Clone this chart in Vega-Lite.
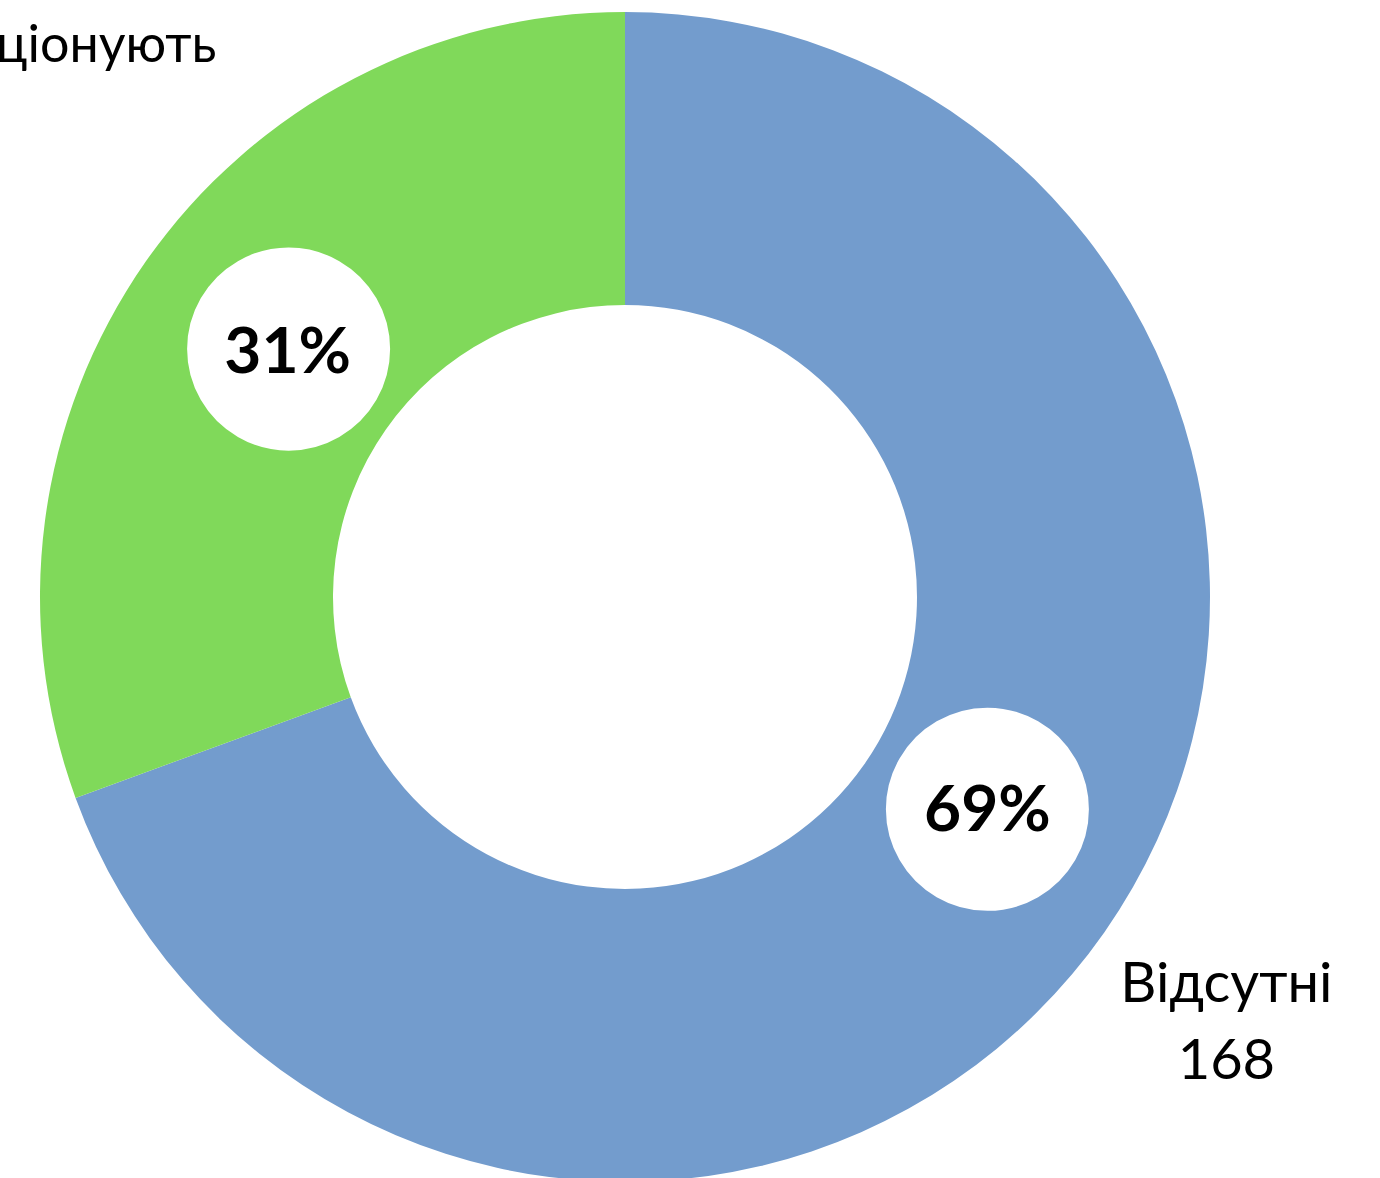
{
  "$schema": "https://vega.github.io/schema/vega-lite/v6.json",
  "width": 1250,
  "height": 1194,
  "autosize": {"type": "none"},
  "padding": {"left": 0, "top": 0, "right": 130, "bottom": 0},
  "background": "white",
  "view": {"stroke": null},
  "data": {
    "values": [
      {"category": "Відсутні", "count": 168, "pct_a": "69%", "pct_b": "", "dot_a": "●", "dot_b": "", "label_out": ["Відсутні", "168"], "label_top": ""},
      {"category": "Функціонують", "count": 74, "pct_a": "", "pct_b": "31%", "dot_a": "", "dot_b": "●", "label_out": "", "label_top": "Функціонують"}
    ]
  },
  "encoding": {
    "theta": {"field": "count", "type": "quantitative", "stack": true},
    "order": {"field": "category", "type": "nominal", "sort": "ascending"}
  },
  "layer": [
    {
      "mark": {"type": "arc", "outerRadius": 585, "innerRadius": 292},
      "encoding": {
        "color": {
          "field": "category",
          "type": "nominal",
          "scale": {"domain": ["Відсутні", "Функціонують"], "range": ["#739ccd", "#80d95a"]},
          "legend": null
        }
      }
    },
    {
      "mark": {"type": "text", "font": "DejaVu Sans", "fontSize": 266, "baseline": "middle", "align": "center", "color": "white", "dx": 19, "dy": -39},
      "encoding": {"radius": {"value": 419}, "text": {"field": "dot_a"}}
    },
    {
      "mark": {"type": "text", "font": "DejaVu Sans", "fontSize": 266, "baseline": "middle", "align": "center", "color": "white", "dx": 7, "dy": -19},
      "encoding": {"radius": {"value": 419}, "text": {"field": "dot_b"}}
    },
    {
      "mark": {"type": "text", "font": "Lato", "fontWeight": "bold", "fontSize": 64, "baseline": "middle", "align": "center", "color": "black", "dx": 19, "dy": -25},
      "encoding": {"radius": {"value": 419}, "text": {"field": "pct_a"}}
    },
    {
      "mark": {"type": "text", "font": "Lato", "fontWeight": "bold", "fontSize": 64, "baseline": "middle", "align": "center", "color": "black", "dx": 6, "dy": -3},
      "encoding": {"radius": {"value": 419}, "text": {"field": "pct_b"}}
    },
    {
      "mark": {"type": "text", "font": "Lato", "fontSize": 56, "lineHeight": 77, "baseline": "middle", "align": "center", "color": "black", "dx": -1, "dy": -33},
      "encoding": {"radius": {"value": 735}, "text": {"field": "label_out"}}
    },
    {
      "mark": {"type": "text", "font": "Lato", "fontSize": 52, "baseline": "middle", "align": "center", "dx": 75, "dy": -93, "color": "black"},
      "encoding": {"radius": {"value": 800}, "text": {"field": "label_top"}}
    }
  ]
}
